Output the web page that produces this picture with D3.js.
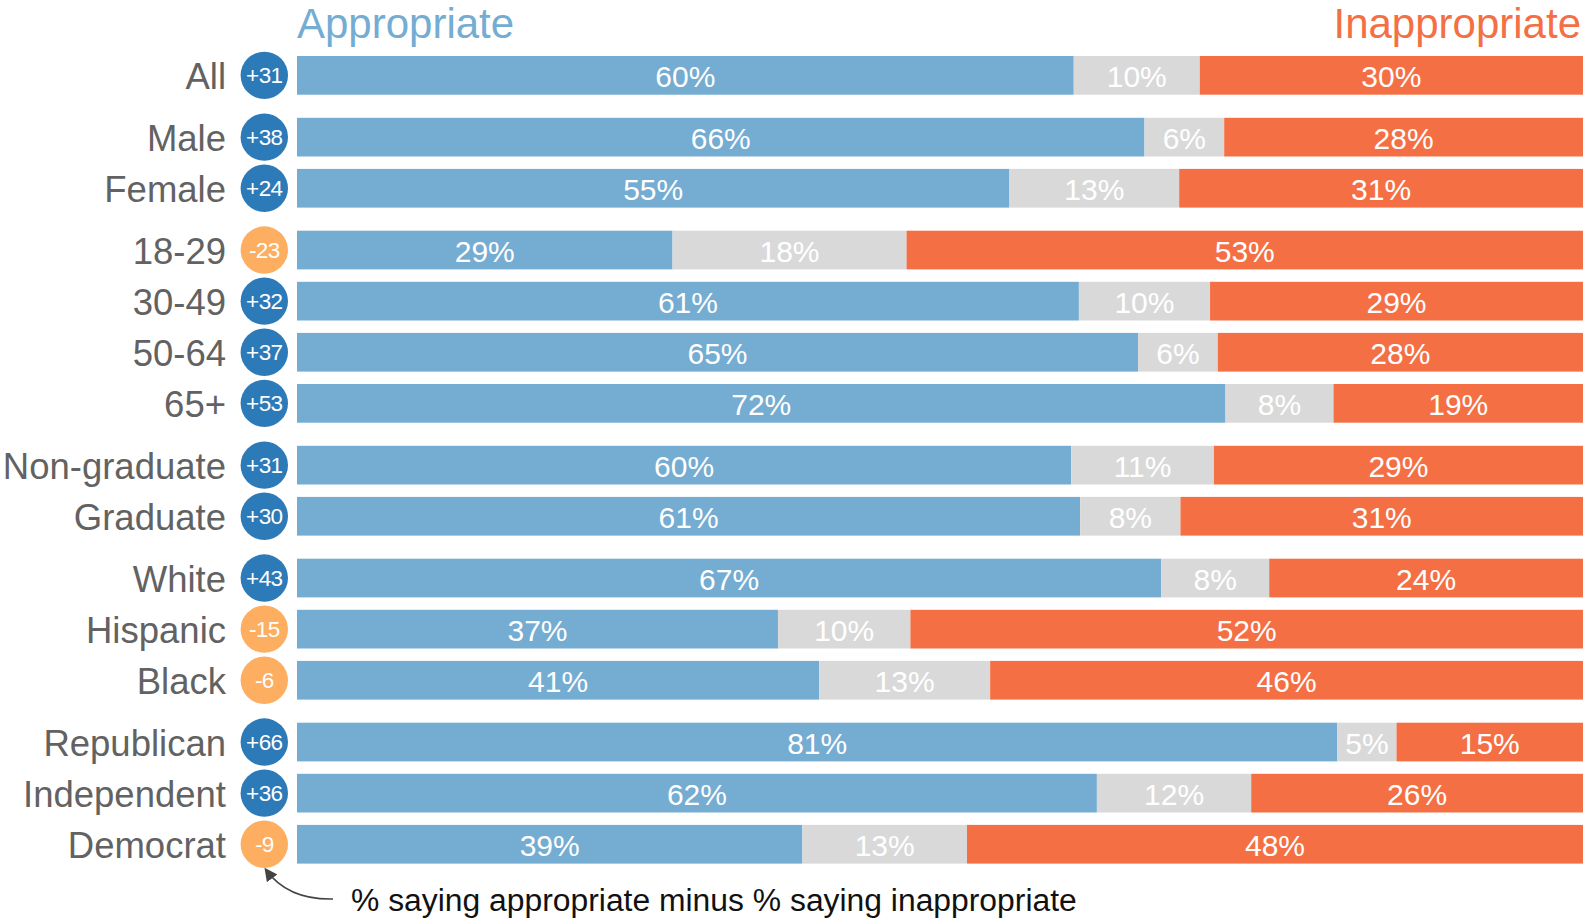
<!DOCTYPE html>
<html>
<head>
<meta charset="utf-8">
<script src="https://cdn.jsdelivr.net/npm/d3@7"></script>
<style>
  html, body { margin: 0; padding: 0; background: #fff; }
  svg { display: block; }
  text { font-family: "Liberation Sans", Arial, sans-serif; }
</style>
</head>
<body>
<svg id="chart" width="1583" height="918"></svg>
<script>
const categories = ["All","Male","Female","18-29","30-49","50-64","65+","Non-graduate","Graduate","White","Hispanic","Black","Republican","Independent","Democrat"];
const groupIndex = [0,1,1,2,2,2,2,3,3,4,4,4,5,5,5];
const appropriate   = [60.4,65.9,55.4,29.2,60.8,65.4,72.2,60.2,60.9,67.2,37.4,40.6,80.9,62.2,39.3];
const neutral       = [9.8,6.2,13.2,18.2,10.2,6.2,8.4,11.1,7.8,8.4,10.3,13.3,4.6,12.0,12.8];
const inappropriate = [29.8,27.9,31.4,52.6,29.0,28.4,19.4,28.7,31.3,24.4,52.3,46.1,14.5,25.8,47.9];
const netDiff       = [31,38,24,-23,32,37,53,31,30,43,-15,-6,66,36,-9];
const headers = ["Appropriate","Inappropriate"];
const footnote = "% saying appropriate minus % saying inappropriate";

const svg = d3.select("#chart");
const colors = { app: "#74acd2", neu: "#d9d9d9", inapp: "#f46f44", pos: "#2d7ab8", neg: "#fdae61", label: "#626262" };

const x = d3.scaleLinear().domain([0, 100]).range([297, 1583]);
const pitch = 51.1, gap = 10.7, barH = 38.7;
const slot = d3.scaleLinear().domain([0, 1]).range([56, 56 + pitch]);
const yTop = i => slot(i + groupIndex[i] * gap / pitch);
const yMid = i => yTop(i) + barH / 2;

const rows = categories.map((c, i) => {
  const a = appropriate[i], n = neutral[i], p = inappropriate[i];
  return { i, c, segs: [
    { k: "app", x0: 0, x1: a, v: a },
    { k: "neu", x0: a, x1: a + n, v: n },
    { k: "inapp", x0: a + n, x1: 100, v: p }
  ]};
});

const g = svg.append("g");
const rowG = g.selectAll("g.row").data(rows).join("g").attr("class", "row");

rowG.selectAll("rect").data(d => d.segs.map(s => ({ ...s, i: d.i }))).join("rect")
  .attr("x", s => x(s.x0))
  .attr("width", s => x(s.x1) - x(s.x0))
  .attr("y", s => yTop(s.i))
  .attr("height", barH)
  .attr("fill", s => colors[s.k]);

rowG.selectAll("text.val").data(d => d.segs.map(s => ({ ...s, i: d.i }))).join("text")
  .attr("class", "val")
  .attr("x", s => (x(s.x0) + x(s.x1)) / 2)
  .attr("y", s => yMid(s.i) + 11.5)
  .attr("text-anchor", "middle")
  .attr("font-size", 30)
  .attr("fill", "#ffffff")
  .text(s => Math.round(s.v) + "%");

// category labels
rowG.append("text")
  .attr("x", 226)
  .attr("y", d => yMid(d.i) + 14)
  .attr("text-anchor", "end")
  .attr("font-size", 36.5)
  .attr("fill", colors.label)
  .text(d => d.c);

// net difference circles
rowG.append("circle")
  .attr("cx", 264.3)
  .attr("cy", d => yMid(d.i))
  .attr("r", 23.7)
  .attr("fill", d => netDiff[d.i] >= 0 ? colors.pos : colors.neg);

rowG.append("text")
  .attr("x", 264.3)
  .attr("y", d => yMid(d.i) + 7.8)
  .attr("text-anchor", "middle")
  .attr("font-size", 22.5)
  .attr("letter-spacing", -0.6)
  .attr("fill", "#ffffff")
  .text(d => (netDiff[d.i] > 0 ? "+" : "") + netDiff[d.i]);

// headers
svg.append("text").attr("x", x(0)).attr("y", 38).attr("font-size", 42)
  .attr("fill", colors.app).text(headers[0]);
svg.append("text").attr("x", 1581).attr("y", 38).attr("font-size", 42)
  .attr("text-anchor", "end").attr("fill", colors.inapp).text(headers[1]);

// annotation
svg.append("defs").append("marker")
  .attr("id", "arrow").attr("viewBox", "0 0 10 10")
  .attr("refX", 8).attr("refY", 5)
  .attr("markerWidth", 13).attr("markerHeight", 13)
  .attr("markerUnits", "userSpaceOnUse")
  .attr("orient", "auto")
  .append("path").attr("d", "M0,0 L10,5 L0,10 Z").attr("fill", "#444");

const last = categories.length - 1;
const tipY = yMid(last) + 23.7 + 2;
const path = d3.path();
path.moveTo(333, 899);
path.quadraticCurveTo(288, 900, 266, tipY);
svg.append("path").attr("d", path.toString())
  .attr("fill", "none").attr("stroke", "#444").attr("stroke-width", 1.6)
  .attr("marker-end", "url(#arrow)");

svg.append("text").attr("x", 351).attr("y", 911).attr("font-size", 31.85)
  .attr("fill", "#111").text(footnote);
</script>
</body>
</html>
